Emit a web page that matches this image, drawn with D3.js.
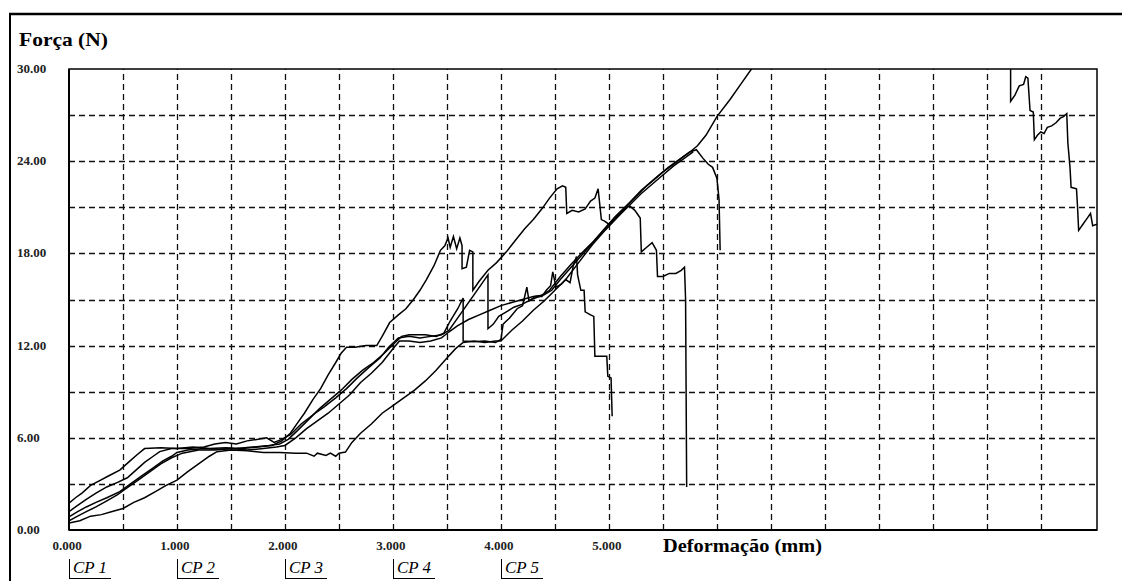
<!DOCTYPE html>
<html lang="pt">
<head>
    <meta charset="UTF-8">
    <title>Força x Deformação</title>
    <script src="https://d3js.org/d3.v7.min.js"></script>
    <style>
        body {
            margin: 0;
            background: #fff;
        }
        svg text {
            font-family: "Liberation Serif", "DejaVu Serif", serif;
        }
        .grid line {
            stroke: #111;
            stroke-width: 1.3;
            stroke-dasharray: 6,4;
        }
        .curve {
            fill: none;
            stroke: #000;
            stroke-width: 1.5;
            stroke-linejoin: miter;
        }
    </style>
</head>
<body>
<div id="chart"></div>
<script>
    // dados: [deformação (mm), força (N)]
    const cp1 = [[0.00,1.75],[0.06,2.1],[0.12,2.4],[0.20,2.9],[0.28,3.2],[0.36,3.5],[0.47,3.9],[0.55,4.4],[0.63,4.9],[0.70,5.3],[0.85,5.35],[1.0,5.3],[1.15,5.4],[1.3,5.3],[1.45,5.35],[1.6,5.3],[1.75,5.4],[1.88,5.5],[1.97,5.8],[2.05,6.3],[2.12,7.0],[2.18,7.6],[2.26,8.5],[2.33,9.2],[2.40,10.1],[2.47,10.9],[2.52,11.5],[2.57,11.9],[2.65,11.9],[2.75,12.0],[2.85,12.0],[2.90,12.6],[2.97,13.5],[3.05,14.0],[3.12,14.4],[3.19,15.0],[3.25,15.6],[3.31,16.3],[3.38,17.2],[3.44,18.2],[3.48,18.5],[3.51,19.0],[3.53,18.4],[3.56,19.1],[3.59,18.3],[3.62,19.0],[3.64,18.5],[3.64,17.0],[3.68,17.1],[3.71,18.2],[3.74,18.1],[3.74,15.6],[3.80,16.2],[3.88,16.9],[3.96,17.4],[4.05,18.1],[4.14,18.9],[4.22,19.6],[4.30,20.2],[4.38,20.9],[4.45,21.6],[4.52,22.2],[4.57,22.4],[4.60,22.3],[4.61,20.6],[4.66,20.8],[4.72,20.7],[4.78,20.9],[4.83,21.4],[4.87,21.6],[4.90,22.2],[4.93,20.2],[4.96,20.1],[5.00,19.9],[5.05,20.2],[5.10,20.6],[5.15,20.9],[5.19,21.1],[5.24,20.8],[5.29,20.3],[5.30,18.1],[5.35,18.4],[5.40,18.7],[5.44,18.2],[5.45,16.5],[5.50,16.5],[5.56,16.7],[5.62,16.7],[5.67,16.9],[5.70,17.1],[5.71,15.0],[5.72,2.8]];
    const cp2 = [[0.00,1.2],[0.08,1.6],[0.16,2.0],[0.25,2.4],[0.35,2.8],[0.45,3.1],[0.54,3.4],[0.62,3.9],[0.70,4.4],[0.78,4.8],[0.84,5.1],[0.95,5.3],[1.1,5.3],[1.25,5.4],[1.35,5.6],[1.45,5.7],[1.55,5.6],[1.65,5.8],[1.75,5.9],[1.83,6.0],[1.90,5.7],[1.97,5.9],[2.05,6.2],[2.15,6.9],[2.26,7.5],[2.36,8.0],[2.47,8.6],[2.57,9.2],[2.67,9.9],[2.78,10.6],[2.88,11.2],[2.96,11.9],[3.05,12.5],[3.15,12.6],[3.25,12.5],[3.35,12.6],[3.45,12.7],[3.52,13.0],[3.60,13.8],[3.68,14.6],[3.75,15.3],[3.82,16.0],[3.88,16.6],[3.88,13.1],[3.93,13.4],[3.98,13.9],[4.05,14.2],[4.12,14.5],[4.20,14.7],[4.28,15.0],[4.36,15.2],[4.45,15.6],[4.55,16.5],[4.65,17.3],[4.76,18.1],[4.86,18.8],[4.96,19.6],[5.06,20.4],[5.19,21.3],[5.30,22.1],[5.40,22.7],[5.50,23.3],[5.60,23.8],[5.69,24.3],[5.75,24.6],[5.81,24.75],[5.87,24.2],[5.92,23.8],[5.96,23.6],[6.00,22.9],[6.02,21.5],[6.03,18.2]];
    const cp3 = [[0.00,0.85],[0.08,1.2],[0.16,1.5],[0.25,1.8],[0.35,2.1],[0.47,2.5],[0.57,3.0],[0.67,3.5],[0.77,4.0],[0.87,4.5],[0.95,4.8],[1.0,5.05],[1.1,5.2],[1.25,5.3],[1.4,5.25],[1.55,5.3],[1.7,5.4],[1.85,5.5],[1.95,5.6],[2.03,5.9],[2.12,6.5],[2.22,7.2],[2.32,7.9],[2.42,8.5],[2.52,9.1],[2.62,9.8],[2.72,10.4],[2.82,10.9],[2.92,11.5],[3.02,12.2],[3.08,12.6],[3.15,12.7],[3.30,12.7],[3.40,12.6],[3.47,12.8],[3.53,13.6],[3.60,14.4],[3.65,15.1],[3.65,12.3],[3.75,12.25],[3.85,12.3],[3.95,12.2],[4.00,12.4],[4.02,13.4],[4.08,13.8],[4.15,14.4],[4.20,14.6],[4.24,15.8],[4.26,14.9],[4.32,15.2],[4.38,15.2],[4.42,15.6],[4.46,15.9],[4.48,16.8],[4.51,15.8],[4.56,16.0],[4.60,16.3],[4.64,16.1],[4.67,17.2],[4.70,17.8],[4.71,16.6],[4.74,15.6],[4.77,15.6],[4.78,14.2],[4.83,14.0],[4.86,13.9],[4.87,11.3],[4.92,11.3],[4.98,11.3],[4.99,10.0],[5.02,9.9],[5.03,7.4]];
    const cp4 = [[0.00,0.6],[0.08,0.9],[0.16,1.2],[0.25,1.5],[0.35,1.9],[0.45,2.3],[0.55,2.8],[0.65,3.3],[0.75,3.8],[0.85,4.3],[0.95,4.7],[1.05,5.0],[1.2,5.2],[1.35,5.2],[1.5,5.3],[1.65,5.2],[1.8,5.3],[1.92,5.4],[2.0,5.5],[2.1,6.0],[2.2,6.6],[2.3,7.1],[2.4,7.6],[2.5,8.2],[2.6,8.8],[2.7,9.6],[2.8,10.2],[2.9,10.9],[3.0,11.8],[3.06,12.3],[3.15,12.3],[3.25,12.2],[3.35,12.3],[3.45,12.5],[3.52,12.9],[3.60,13.3],[3.70,13.7],[3.80,14.0],[3.90,14.3],[4.00,14.6],[4.10,14.8],[4.20,15.0],[4.30,15.2],[4.40,15.3],[4.47,15.6],[4.55,16.3],[4.65,17.1],[4.75,17.9],[4.85,18.7],[4.95,19.5],[5.05,20.3],[5.15,21.0],[5.25,21.7],[5.35,22.4],[5.45,23.0],[5.55,23.6],[5.65,24.1],[5.75,24.6],[5.82,25.0],[5.90,25.7],[6.00,26.9],[6.12,28.0],[6.22,29.0],[6.32,30.0],[6.50,31.6],[6.80,33.5],[7.20,35.0],[7.70,35.6],[8.20,34.5],[8.55,32.2],[8.72,31.0],[8.72,27.9],[8.76,28.3],[8.80,28.9],[8.84,29.0],[8.86,29.5],[8.88,29.4],[8.90,27.3],[8.93,27.2],[8.94,25.4],[8.97,25.7],[9.00,25.9],[9.03,25.8],[9.06,26.2],[9.10,26.3],[9.14,26.5],[9.18,26.8],[9.21,26.9],[9.24,27.1],[9.25,25.2],[9.27,23.6],[9.28,22.3],[9.33,22.2],[9.34,21.0],[9.35,19.5],[9.38,19.8],[9.42,20.2],[9.46,20.6],[9.48,19.8],[9.52,19.9]];
    const cp5 = [[0.00,0.45],[0.10,0.6],[0.20,0.9],[0.30,1.0],[0.40,1.2],[0.50,1.4],[0.60,1.8],[0.70,2.1],[0.80,2.5],[0.90,2.9],[1.00,3.25],[1.10,3.8],[1.20,4.3],[1.30,4.8],[1.37,5.1],[1.50,5.2],[1.65,5.15],[1.80,5.05],[1.95,5.05],[2.10,5.0],[2.20,5.0],[2.27,4.8],[2.30,5.0],[2.38,4.85],[2.42,5.0],[2.47,4.8],[2.50,5.0],[2.56,5.07],[2.62,5.7],[2.70,6.3],[2.80,6.9],[2.90,7.6],[3.00,8.1],[3.10,8.6],[3.20,9.1],[3.30,9.7],[3.40,10.4],[3.50,11.2],[3.58,11.8],[3.65,12.2],[3.75,12.3],[3.85,12.2],[3.95,12.3],[4.00,12.3],[4.10,13.0],[4.20,13.6],[4.30,14.3],[4.40,14.9],[4.50,15.6],[4.60,16.3],[4.73,17.5],[4.85,18.6],[4.95,19.4],[5.10,20.5],[5.20,21.2],[5.30,21.9],[5.40,22.5],[5.50,23.1],[5.60,23.7],[5.70,24.2],[5.78,24.6]];

    const series = [cp1, cp2, cp3, cp4, cp5];
    const legendNames = ["CP 1", "CP 2", "CP 3", "CP 4", "CP 5"];
    const xTickValues = [0, 1, 2, 3, 4, 5];
    const xTickLabels = ["0.000", "1.000", "2.000", "3.000", "4.000", "5.000"];
    const yTickValues = [0, 6, 12, 18, 24, 30];
    const yTickLabels = ["0.00", "6.00", "12.00", "18.00", "24.00", "30.00"];

    const W = 1122, H = 581;
    const plot = {left: 69, top: 69, right: 1097, bottom: 530};

    const svg = d3.select("#chart").append("svg")
        .attr("width", W)
        .attr("height", H);

    // escalas
    const x = d3.scaleLinear().domain([0, 9.52]).range([plot.left, plot.right]);
    const y = d3.scaleLinear().domain([0, 30]).range([plot.bottom, plot.top]);

    // moldura externa
    svg.append("line").attr("x1", 9).attr("x2", W).attr("y1", 14).attr("y2", 14)
        .attr("stroke", "#000").attr("stroke-width", 2.5);
    svg.append("line").attr("x1", 10).attr("x2", 10).attr("y1", 13).attr("y2", H)
        .attr("stroke", "#000").attr("stroke-width", 2);

    // grade tracejada
    const grid = svg.append("g").attr("class", "grid");
    grid.selectAll(".vx")
        .data(d3.range(0.5, 9.01, 0.5))
        .enter().append("line")
        .attr("x1", d => Math.round(x(d)) + 0.5)
        .attr("x2", d => Math.round(x(d)) + 0.5)
        .attr("y1", plot.bottom)
        .attr("y2", plot.top);
    grid.selectAll(".hy")
        .data(d3.range(3, 28, 3))
        .enter().append("line")
        .attr("y1", d => Math.round(y(d)) + 0.5)
        .attr("y2", d => Math.round(y(d)) + 0.5)
        .attr("x1", plot.left)
        .attr("x2", plot.right);

    // borda da área do gráfico
    svg.append("rect")
        .attr("x", plot.left).attr("y", plot.top)
        .attr("width", plot.right - plot.left)
        .attr("height", plot.bottom - plot.top)
        .attr("fill", "none").attr("stroke", "#000").attr("stroke-width", 1.5);
    svg.append("line").attr("x1", plot.left).attr("x2", plot.left)
        .attr("y1", plot.top).attr("y2", plot.bottom)
        .attr("stroke", "#000").attr("stroke-width", 2);
    svg.append("line").attr("x1", plot.left).attr("x2", plot.right)
        .attr("y1", plot.bottom).attr("y2", plot.bottom)
        .attr("stroke", "#000").attr("stroke-width", 2);

    // curvas (recortadas na área do gráfico)
    svg.append("defs").append("clipPath").attr("id", "area")
        .append("rect")
        .attr("x", plot.left).attr("y", plot.top)
        .attr("width", plot.right - plot.left)
        .attr("height", plot.bottom - plot.top);

    const line = d3.line().x(d => x(d[0])).y(d => y(d[1]));
    svg.append("g").attr("clip-path", "url(#area)")
        .selectAll("path")
        .data(series)
        .enter().append("path")
        .attr("class", "curve")
        .attr("d", line);

    // rótulos do eixo Y
    svg.selectAll(".ylab")
        .data(yTickValues)
        .enter().append("text")
        .attr("x", 17)
        .attr("y", d => y(d) + 4)
        .attr("font-size", 13)
        .attr("font-weight", "bold")
        .attr("fill", "#222")
        .text((d, i) => yTickLabels[i]);

    // rótulos do eixo X
    svg.selectAll(".xlab")
        .data(xTickValues)
        .enter().append("text")
        .attr("x", d => x(d) - 2)
        .attr("y", 550)
        .attr("text-anchor", "middle")
        .attr("font-size", 13)
        .attr("font-weight", "bold")
        .attr("fill", "#222")
        .text((d, i) => xTickLabels[i]);

    // títulos dos eixos
    svg.append("text")
        .attr("x", 19).attr("y", 46)
        .attr("font-size", 19)
        .attr("font-weight", "bold")
        .attr("textLength", 89)
        .attr("lengthAdjust", "spacingAndGlyphs")
        .text("Força (N)");
    svg.append("text")
        .attr("x", 663).attr("y", 552)
        .attr("font-size", 19)
        .attr("font-weight", "bold")
        .attr("textLength", 159)
        .attr("lengthAdjust", "spacingAndGlyphs")
        .text("Deformação (mm)");

    // legenda
    const leg = svg.selectAll(".leg")
        .data(legendNames)
        .enter().append("g")
        .attr("transform", (d, i) => `translate(${Math.round(x(i))},0)`);
    leg.append("line")
        .attr("x1", 0.5).attr("x2", 0.5).attr("y1", 559).attr("y2", 579)
        .attr("stroke", "#000").attr("stroke-width", 1);
    leg.append("line")
        .attr("x1", 0).attr("x2", 42).attr("y1", 578.5).attr("y2", 578.5)
        .attr("stroke", "#000").attr("stroke-width", 1);
    leg.append("text")
        .attr("x", 4).attr("y", 573)
        .attr("font-size", 16)
        .attr("font-style", "italic")
        .attr("textLength", 34)
        .attr("lengthAdjust", "spacingAndGlyphs")
        .text(d => d);
</script>
</body>
</html>
